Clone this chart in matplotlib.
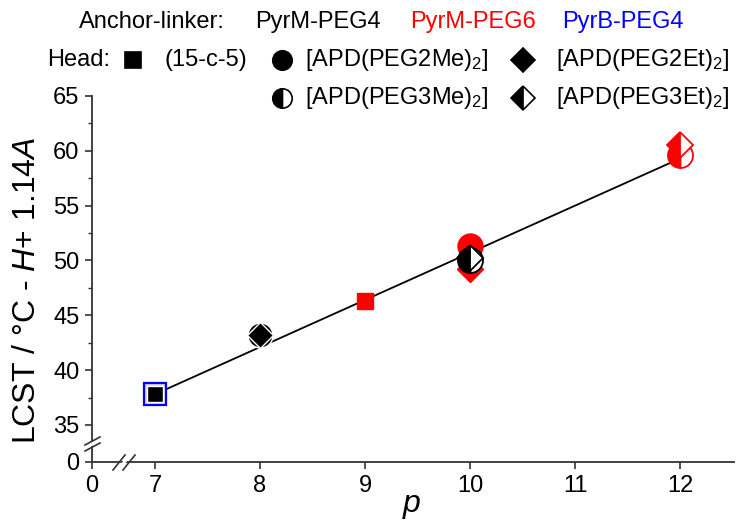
import matplotlib
matplotlib.use("Agg")
import matplotlib.pyplot as plt
from matplotlib.lines import Line2D
from matplotlib.patches import Polygon

plt.rcParams["font.family"] = ["Liberation Sans", "DejaVu Sans"]
plt.rcParams["mathtext.fontset"] = "custom"
plt.rcParams["mathtext.rm"] = "Liberation Sans"
plt.rcParams["mathtext.it"] = "Liberation Sans:italic"

# data
pyrm4_p = [7, 8, 8, 10, 10]
pyrm4_y = [37.8, 43.2, 43.2, 50.0, 50.2]
pyrm4_head = ["sq", "circ", "diam", "hcirc", "hdiam"]

pyrm6_p = [9, 10, 10, 12, 12]
pyrm6_y = [46.3, 51.3, 49.2, 59.6, 60.5]
pyrm6_head = ["sq", "circ", "diam", "hcirc", "hdiam"]

pyrb4_p = [7]
pyrb4_y = [37.8]

fit_p = [7, 12]
fit_y = [37.8, 59.3]

x_ticks = [7, 8, 9, 10, 11, 12]
y_ticks = [35, 40, 45, 50, 55, 60, 65]
x_zero_pos = 6.4     # where the broken x axis shows "0"
y_zero_pos = 31.62   # where the broken y axis shows "0"

W, H = 750, 522
fig = plt.figure(figsize=(W / 100, H / 100), dpi=100)
ax = fig.add_axes([92 / W, 60 / H, 642 / W, 366 / H])

STYLE = {
    "sq": dict(marker="s", ms=12),
    "circ": dict(marker="o", ms=18),
    "diam": dict(marker="D", ms=13),
    "hcirc": dict(marker="o", ms=18, fillstyle="left", markerfacecoloralt="white"),
    "hdiam": dict(marker="D", ms=13, fillstyle="left", markerfacecoloralt="white"),
}


def draw(ps, ys, heads, color, edge):
    for p, y, h in zip(ps, ys, heads):
        st = dict(STYLE[h])
        if h in ("hcirc", "hdiam"):
            ax.plot([p], [y], ls="none", color=color, mec=color, mew=1.3, zorder=4, **st)
        else:
            ax.plot([p], [y], ls="none", color=color, mec=edge, mew=1.0, zorder=4, **st)


ax.plot(fit_p, fit_y, color="black", lw=1.3, zorder=3)

# PyrB-PEG4 square (blue outline behind the black one)
ax.plot(pyrb4_p, pyrb4_y, ls="none", marker="s", ms=15.5, mfc="#d8d8d8",
        mec="blue", mew=1.6, zorder=4)
draw(pyrm6_p, pyrm6_y, pyrm6_head, "red", "red")
draw(pyrm4_p, pyrm4_y, pyrm4_head, "black", "white")

ax.set_xlim(x_zero_pos, 12.514)
ax.set_ylim(y_zero_pos, 65.0)
ax.set_xticks([x_zero_pos] + x_ticks)
ax.set_xticklabels(["0"] + [str(t) for t in x_ticks])
ax.set_yticks([y_zero_pos] + y_ticks)
ax.set_yticklabels(["0"] + [str(t) for t in y_ticks])
ax.set_yticks([37.5, 42.5, 47.5, 52.5, 57.5, 62.5], minor=True)

for s in ("top", "right"):
    ax.spines[s].set_visible(False)
for s in ("left", "bottom"):
    ax.spines[s].set_color("#333333")
    ax.spines[s].set_linewidth(1.3)
ax.tick_params(which="major", direction="out", length=5, width=1.2,
               color="#333333", labelsize=17, pad=4)
ax.tick_params(which="minor", direction="out", length=3, width=1.0, color="#333333")


def fx(px):
    return px / W


def fy(py):
    return 1 - py / H


fig.text(fx(27), fy(290), r"LCST / °C - $\mathit{H}$+ 1.14$\mathit{A}$", fontsize=23,
         rotation=90, ha="center", va="center")
fig.text(fx(412), fy(506), r"$\mathit{p}$", fontsize=23, ha="center", va="center")

# axis break marks
fig.add_artist(Polygon([(fx(117), fy(470)), (fx(129), fy(455)), (fx(131), fy(455)),
                        (fx(119), fy(470))], closed=True, color="white", zorder=5))
for x0 in (113, 123):
    fig.add_artist(Line2D([fx(x0), fx(x0 + 12)], [fy(470), fy(455)], color="#333333", lw=1.2, zorder=6))
fig.add_artist(Polygon([(fx(85), fy(449)), (fx(100), fy(441)), (fx(100), fy(438)),
                        (fx(85), fy(446))], closed=True, color="white", zorder=5))
for y0 in (445, 451):
    fig.add_artist(Line2D([fx(85), fx(100)], [fy(y0), fy(y0 - 8)], color="#333333", lw=1.2, zorder=6))

# legend drawn as free text + markers
fs = 17
fig.text(fx(152), fy(22), "Anchor-linker:", fontsize=fs, ha="center", va="center")
fig.text(fx(318), fy(22), "PyrM-PEG4", fontsize=fs, ha="center", va="center", color="black")
fig.text(fx(473), fy(22), "PyrM-PEG6", fontsize=fs, ha="center", va="center", color="red")
fig.text(fx(623), fy(22), "PyrB-PEG4", fontsize=fs, ha="center", va="center", color="blue")

fig.text(fx(47), fy(60), "Head:", fontsize=fs, ha="left", va="center")
leg_rows = [
    (133, 60, dict(marker="s", ms=11), "(15-c-5)", 165),
    (282, 60, dict(marker="o", ms=14), r"[APD(PEG2Me)$_2$]", 305),
    (523, 60, dict(marker="D", ms=12), r"[APD(PEG2Et)$_2$]", 556),
    (282, 98, dict(marker="o", ms=14, fillstyle="left", markerfacecoloralt="white"),
     r"[APD(PEG3Me)$_2$]", 305),
    (523, 98, dict(marker="D", ms=12, fillstyle="left", markerfacecoloralt="white"),
     r"[APD(PEG3Et)$_2$]", 556),
]
for mx, my, mst, label, tx in leg_rows:
    fig.add_artist(Line2D([fx(mx)], [fy(my)], ls="none", color="black", mec="black",
                          mew=1.2, **mst))
    fig.text(fx(tx), fy(my), label, fontsize=fs, ha="left", va="center")

fig.savefig("out.png", dpi=100, facecolor="white")
